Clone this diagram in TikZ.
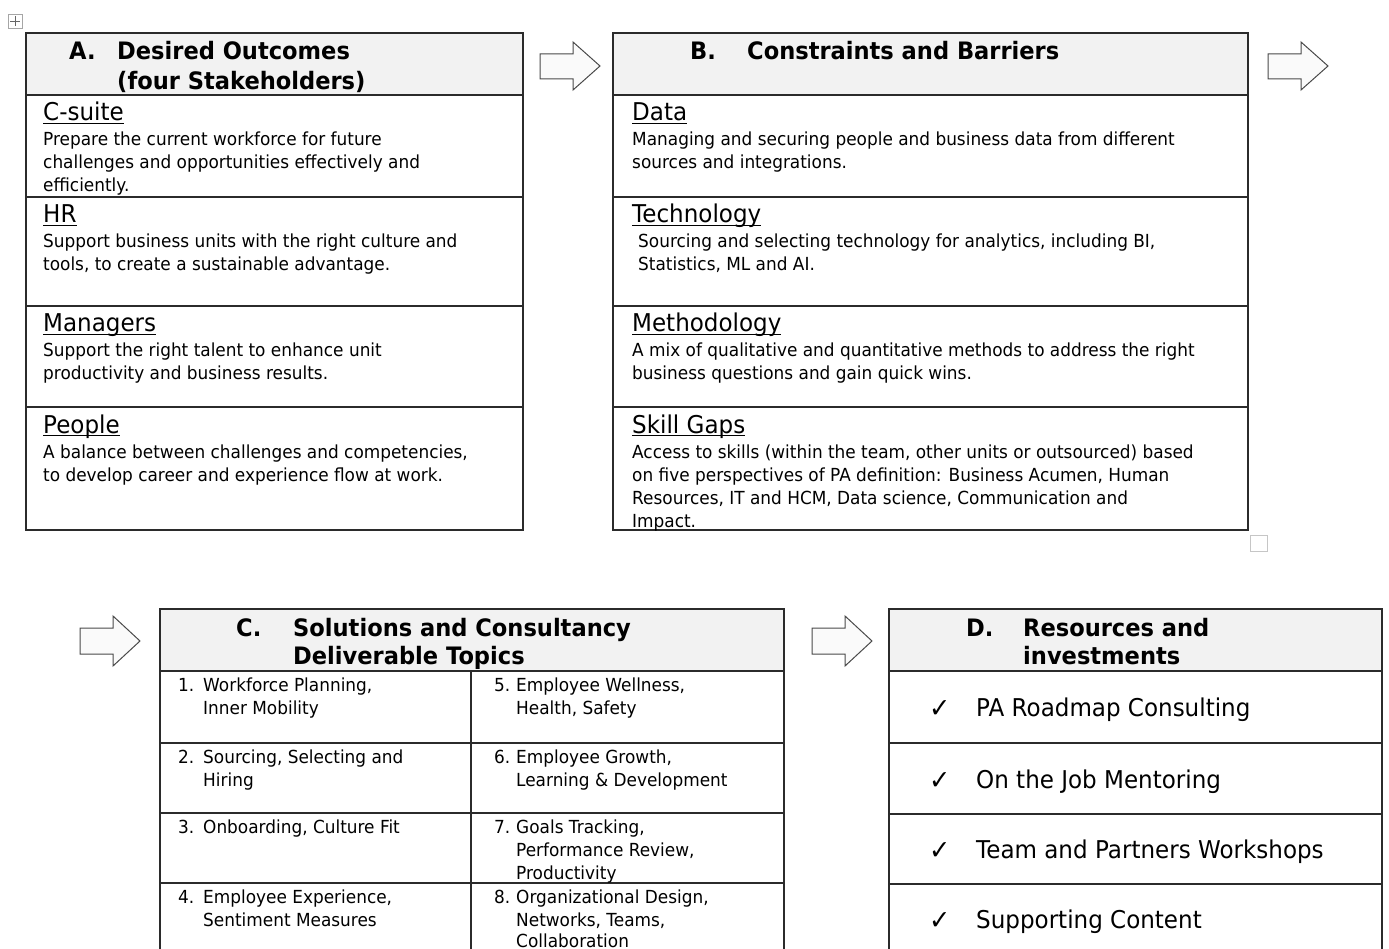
\documentclass[tikz,border=0pt]{standalone}
\usepackage{fontspec}
\setmainfont{DejaVu Sans}[FakeStretch=0.94]
\definecolor{hdrgray}{HTML}{F2F2F2}
\definecolor{linecol}{HTML}{2B2B2B}
\definecolor{arrowline}{HTML}{4A4A4A}
\definecolor{arrowfill}{HTML}{FAFAFA}
\newcommand\myul[1]{\setbox0\hbox{#1}\rlap{\rule[-3pt]{\wd0}{1.1pt}}\box0}
\tikzset{
  hdrbox/.style={draw=linecol, fill=hdrgray, line width=1.3pt},
  cellbox/.style={draw=linecol, line width=1.3pt},
  ttl/.style={anchor=base west, inner sep=0pt, font=\fontsize{24}{28}\selectfont\bfseries},
  subhd/.style={anchor=base west, inner sep=0pt, font=\fontsize{24.5}{28}\selectfont},
  bodytxt/.style={anchor=base west, inner sep=0pt, font=\fontsize{18}{23}\selectfont},
  celltxt/.style={anchor=base west, inner sep=0pt, font=\fontsize{18}{23}\selectfont},
  itemtxt/.style={anchor=base west, inner sep=0pt, font=\fontsize{24.5}{28}\selectfont},
  checktxt/.style={anchor=base west, inner sep=0pt, font=\fontsize{27}{30}\selectfont},
  blockarrow/.style={draw=arrowline, fill=arrowfill, line width=1pt, line join=miter},
}
\begin{document}
\begin{tikzpicture}[x=1pt,y=-1pt]
\useasboundingbox (0,0) rectangle (1389,949);
\clip (0,0) rectangle (1389,949);
% table move handle
\draw[draw=gray!70, line width=0.6pt] (8,14) rectangle (22,28);
\draw[gray!80!black, line width=0.7pt] (10,21) -- (20,21) (15,16) -- (15,26);
% ---------------- Table A ----------------
\path[hdrbox] (26,33) rectangle (523,95);
\path[cellbox] (26,95) rectangle (523,197);
\path[cellbox] (26,197) rectangle (523,306);
\path[cellbox] (26,306) rectangle (523,407);
\path[cellbox] (26,407) rectangle (523,530);
\node[ttl] (aL) at (69,60) {A.};
\node[ttl] (aT1) at (117,60) {Desired Outcomes};
\node[ttl] (aT2) at (117,90) {(four Stakeholders)};
\node[subhd] (a1h) at (43,121) {\myul{C-suite}};
\node[bodytxt] (a1a) at (43,146) {Prepare the current workforce for future};
\node[bodytxt] (a1b) at (43,169) {challenges and opportunities effectively and};
\node[bodytxt] (a1c) at (43,192) {efficiently.};
\node[subhd] (a2h) at (43,223) {\myul{HR}};
\node[bodytxt] (a2a) at (43,248) {Support business units with the right culture and};
\node[bodytxt] (a2b) at (43,271) {tools, to create a sustainable advantage.};
\node[subhd] (a3h) at (43,332) {\myul{Managers}};
\node[bodytxt] (a3a) at (43,357) {Support the right talent to enhance unit};
\node[bodytxt] (a3b) at (43,380) {productivity and business results.};
\node[subhd] (a4h) at (43,433) {\myul{People}};
\node[bodytxt] (a4a) at (43,458) {A balance between challenges and competencies,};
\node[bodytxt] (a4b) at (43,481) {to develop career and experience flow at work.};
% arrow A -> B
\draw[blockarrow] (540,54) -- (573,54) -- (573,42) -- (600,66) -- (573,90) -- (573,79) -- (540,79) -- cycle;
% ---------------- Table B ----------------
\path[hdrbox] (613,33) rectangle (1248,95);
\path[cellbox] (613,95) rectangle (1248,197);
\path[cellbox] (613,197) rectangle (1248,306);
\path[cellbox] (613,306) rectangle (1248,407);
\path[cellbox] (613,407) rectangle (1248,530);
\node[ttl] (bL) at (690,60) {B.};
\node[ttl] (bT) at (747,60) {Constraints and Barriers};
\node[subhd] (b1h) at (632,121) {\myul{Data}};
\node[bodytxt] (b1a) at (632,146) {Managing and securing people and business data from different};
\node[bodytxt] (b1b) at (632,169) {sources and integrations.};
\node[subhd] (b2h) at (632,223) {\myul{Technology}};
\node[bodytxt] (b2a) at (638,248) {Sourcing and selecting technology for analytics, including BI,};
\node[bodytxt] (b2b) at (638,271) {Statistics, ML and AI.};
\node[subhd] (b3h) at (632,332) {\myul{Methodology}};
\node[bodytxt] (b3a) at (632,357) {A mix of qualitative and quantitative methods to address the right};
\node[bodytxt] (b3b) at (632,380) {business questions and gain quick wins.};
\node[subhd] (b4h) at (632,433) {\myul{Skill Gaps}};
\node[bodytxt] (b4a) at (632,458) {Access to skills (within the team, other units or outsourced) based};
\node[bodytxt] (b4b) at (632,481) {on five perspectives of PA definition: Business Acumen, Human};
\node[bodytxt] (b4c) at (632,504) {Resources, IT and HCM, Data science, Communication and};
\node[bodytxt] (b4d) at (632,527) {Impact.};
\draw[draw=gray!45, line width=0.8pt] (1250,535) rectangle (1267,551);
% arrow B -> C
\draw[blockarrow] (1268,54) -- (1301,54) -- (1301,42) -- (1328,66) -- (1301,90) -- (1301,79) -- (1268,79) -- cycle;
% ---------------- Table C ----------------
\draw[blockarrow] (80,628) -- (113,628) -- (113,616) -- (140,641) -- (113,666) -- (113,654) -- (80,654) -- cycle;
\path[hdrbox] (160,609) rectangle (784,671);
\draw[cellbox] (160,671) -- (160,960) (784,671) -- (784,960) (471,671) -- (471,960)
  (160,743) -- (784,743) (160,813) -- (784,813) (160,883) -- (784,883);
\node[ttl] (cL) at (236,636) {C.};
\node[ttl] (cT1) at (293,636) {Solutions and Consultancy};
\node[ttl] (cT2) at (293,664) {Deliverable Topics};
\node[celltxt] (c1n) at (178,691) {1.};
\node[celltxt] (c1a) at (203,691) {Workforce Planning,};
\node[celltxt] (c1b) at (203,714) {Inner Mobility};
\node[celltxt] (c2n) at (178,763) {2.};
\node[celltxt] (c2a) at (203,763) {Sourcing, Selecting and};
\node[celltxt] (c2b) at (203,786) {Hiring};
\node[celltxt] (c3n) at (178,833) {3.};
\node[celltxt] (c3a) at (203,833) {Onboarding, Culture Fit};
\node[celltxt] (c4n) at (178,903) {4.};
\node[celltxt] (c4a) at (203,903) {Employee Experience,};
\node[celltxt] (c4b) at (203,926) {Sentiment Measures};
\node[celltxt] (c5n) at (494,691) {5.};
\node[celltxt] (c5a) at (516,691) {Employee Wellness,};
\node[celltxt] (c5b) at (516,714) {Health, Safety};
\node[celltxt] (c6n) at (494,763) {6.};
\node[celltxt] (c6a) at (516,763) {Employee Growth,};
\node[celltxt] (c6b) at (516,786) {Learning \& Development};
\node[celltxt] (c7n) at (494,833) {7.};
\node[celltxt] (c7a) at (516,833) {Goals Tracking,};
\node[celltxt] (c7b) at (516,856) {Performance Review,};
\node[celltxt] (c7c) at (516,879) {Productivity};
\node[celltxt] (c8n) at (494,903) {8.};
\node[celltxt] (c8a) at (516,903) {Organizational Design,};
\node[celltxt] (c8b) at (516,926) {Networks, Teams,};
\node[celltxt] (c8c) at (516,947) {Collaboration};
% ---------------- Table D ----------------
\draw[blockarrow] (812,628) -- (845,628) -- (845,616) -- (872,641) -- (845,666) -- (845,654) -- (812,654) -- cycle;
\path[hdrbox] (889,609) rectangle (1382,671);
\draw[cellbox] (889,671) -- (889,960) (1382,671) -- (1382,960)
  (889,743) -- (1382,743) (889,814) -- (1382,814) (889,884) -- (1382,884);
\node[ttl] (dL) at (966,636) {D.};
\node[ttl] (dT1) at (1023,636) {Resources and};
\node[ttl] (dT2) at (1023,664) {investments};
\node[checktxt] (d1c) at (929,717) {✓};
\node[itemtxt] (d1) at (976,716) {PA Roadmap Consulting};
\node[checktxt] (d2c) at (929,789) {✓};
\node[itemtxt] (d2) at (976,788) {On the Job Mentoring};
\node[checktxt] (d3c) at (929,859) {✓};
\node[itemtxt] (d3) at (976,858) {Team and Partners Workshops};
\node[checktxt] (d4c) at (929,929) {✓};
\node[itemtxt] (d4) at (976,928) {Supporting Content};
\end{tikzpicture}
\end{document}
